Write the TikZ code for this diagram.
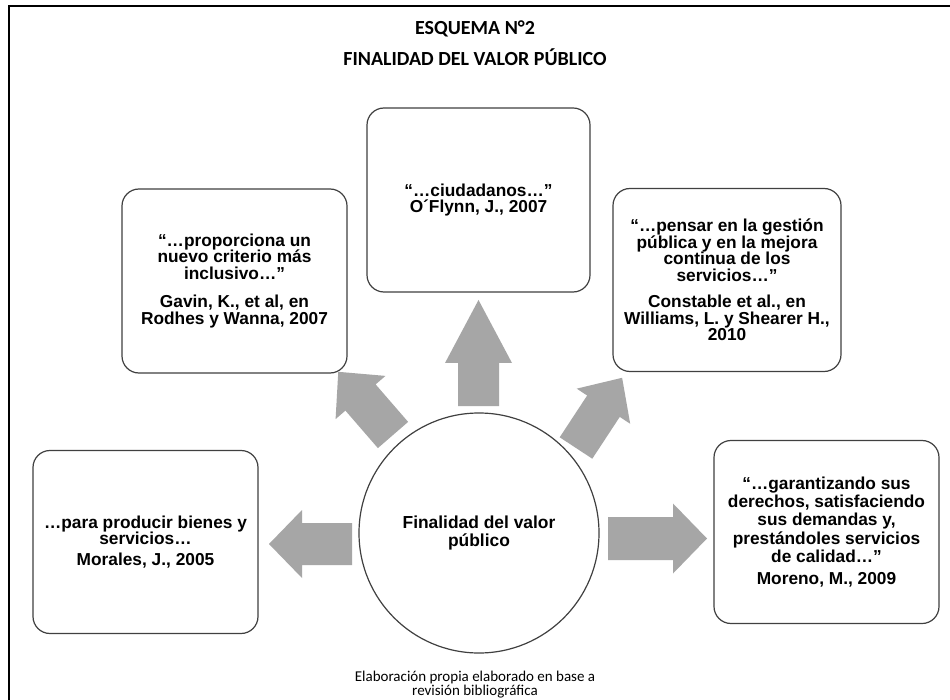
\documentclass[tikz,border=0pt]{standalone}
\usepackage{fontspec}
\setmainfont{Liberation Sans}
\newfontfamily\carlito{Carlito}
\definecolor{arrowgray}{HTML}{A6A6A6}
\definecolor{edgegray}{HTML}{404040}
\newcommand\blockarr[8]{%
  \begin{scope}[shift={(#1,#2)},rotate=#3]
    \fill[arrowgray] (0,-#6/2) -- (#4,-#6/2) -- (#4,-#7/2) -- (#4+#5,0) -- (#4,#7/2) -- (#4,#6/2) -- (0,#6/2) -- cycle;
    \coordinate (#8) at (#4+#5,0);
  \end{scope}}
\begin{document}
\begin{tikzpicture}[x=1pt,y=-1pt,
  quotebox/.style={draw=edgegray,line width=1.2pt,fill=white,rounded corners=17pt,
    align=center,inner sep=0pt,font=\bfseries\fontsize{17.3}{16.5}\selectfont},
  hub/.style={circle,draw=edgegray,line width=1.2pt,fill=white,minimum size=240pt,
    align=center,inner sep=0pt,font=\bfseries\fontsize{17.4}{18}\selectfont},
  titletext/.style={font=\carlito\bfseries\fontsize{20}{24}\selectfont,inner sep=0pt},
  captext/.style={font=\carlito\fontsize{15}{17}\selectfont,inner sep=0pt}]
\useasboundingbox (0,0) rectangle (950,700);
\fill[white] (0,0) rectangle (950,700);
% outer frame
\draw[line width=2pt,black] (9,6) rectangle (980,730);
% title
\node[titletext] (t1) at (475,29) {ESQUEMA N°2};
\node[titletext] (t2) at (475,57) {FINALIDAD DEL VALOR PÚBLICO};
% arrows (drawn under boxes)
\blockarr{352}{544}{180}{50}{33}{42}{68}{tipL}
\blockarr{608}{538.5}{0}{65}{34}{43}{70}{tipR}
\blockarr{478.5}{406}{90}{43}{63}{41}{67}{tipT}
\blockarr{393}{435}{130.9}{49.6}{34}{40}{66}{tipUL}
\blockarr{576}{448}{56.7}{50}{34}{39}{64}{tipUR}
% hub
\node[hub] (hub) at (479,533) {Finalidad del valor\\público};
% boxes
\node[quotebox,minimum width=223pt,minimum height=184pt] (top) at (478.5,200)
  {“…ciudadanos…”\\O´Flynn, J., 2007};
\node[quotebox,minimum width=225pt,minimum height=184pt] (ul) at (234.5,281)
  {“…proporciona un\\nuevo criterio más\\inclusivo…”\\[12pt]Gavin, K., et al, en\\Rodhes y Wanna, 2007};
\node[quotebox,minimum width=228pt,minimum height=183pt] (ur) at (727,280)
  {“…pensar en la gestión\\pública y en la mejora\\continua de los\\servicios…”\\[10pt]Constable et al., en\\Williams, L. y Shearer H.,\\2010};
\node[quotebox,minimum width=225pt,minimum height=183pt] (ll) at (145.5,542)
  {…para producir bienes y\\servicios…\\[4pt]Morales, J., 2005};
\node[quotebox,minimum width=225pt,minimum height=183pt,font=\bfseries\fontsize{17.3}{18.3}\selectfont] (lr) at (826.5,532)
  {“…garantizando sus\\derechos, satisfaciendo\\sus demandas y,\\prestándoles servicios\\de calidad…”\\[4pt]Moreno, M., 2009};
% caption
\node[captext] (c1) at (475,677) {Elaboración propia elaborado en base a};
\node[captext] (c2) at (475,692) {revisión bibliográfica};
\end{tikzpicture}
\end{document}
